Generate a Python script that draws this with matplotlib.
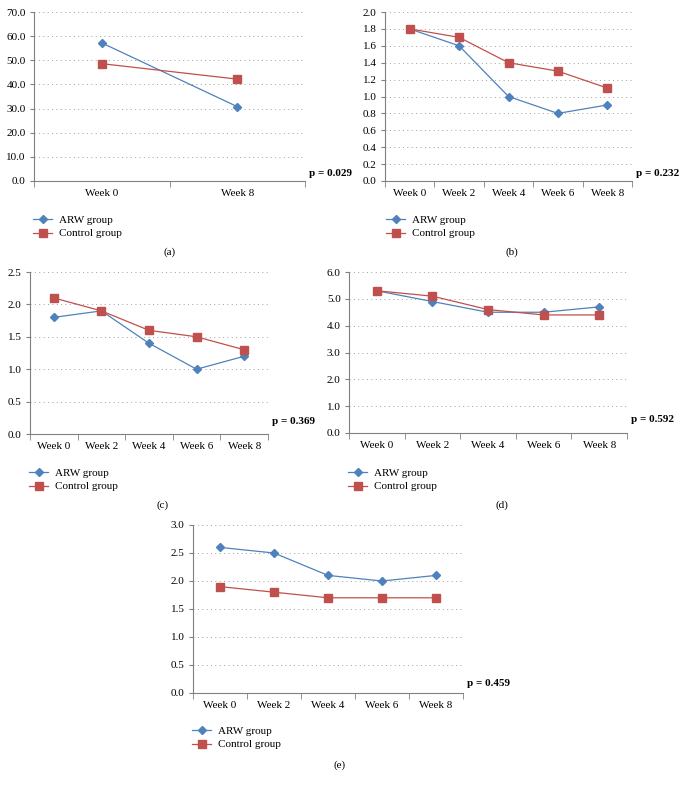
import matplotlib
matplotlib.use("Agg")
import matplotlib.pyplot as plt
from matplotlib.ticker import FixedLocator, FormatStrFormatter
from matplotlib.lines import Line2D

plt.rcParams['font.family'] = ['Liberation Serif', 'DejaVu Serif']

weeks_a = ["Week 0", "Week 8"]
weeks = ["Week 0", "Week 2", "Week 4", "Week 6", "Week 8"]

arw_a = [57.2, 30.8]
ctl_a = [48.6, 42.2]
arw_b = [1.8, 1.6, 1.0, 0.8, 0.9]
ctl_b = [1.8, 1.7, 1.4, 1.3, 1.1]
arw_c = [1.8, 1.9, 1.4, 1.0, 1.2]
ctl_c = [2.1, 1.9, 1.6, 1.5, 1.3]
arw_d = [5.3, 4.9, 4.5, 4.5, 4.7]
ctl_d = [5.3, 5.1, 4.6, 4.4, 4.4]
arw_e = [2.6, 2.5, 2.1, 2.0, 2.1]
ctl_e = [1.9, 1.8, 1.7, 1.7, 1.7]

p_values = ["p = 0.029", "p = 0.232", "p = 0.369", "p = 0.592", "p = 0.459"]
panel_labels = ["(a)", "(b)", "(c)", "(d)", "(e)"]
series_names = ["ARW group", "Control group"]

BLUE = "#4F81BD"
RED = "#C0504D"
GRAY = "#808080"

W, H = 682, 787
fig = plt.figure(figsize=(W / 100, H / 100), dpi=100)

# (left, right, top, bottom) in pixels, p-text y in pixels, legend top px, label y px
panels = [
    dict(box=(34, 305, 12, 181), cats=weeks_a, arw=arw_a, ctl=ctl_a, ymax=70, step=10,
         py=173, leg=(33, 215), lab=(170, 252)),
    dict(box=(385, 632, 12, 181), cats=weeks, arw=arw_b, ctl=ctl_b, ymax=2.0, step=0.2,
         py=173, leg=(386, 215), lab=(512, 252)),
    dict(box=(30, 268, 272, 434), cats=weeks, arw=arw_c, ctl=ctl_c, ymax=2.5, step=0.5,
         py=422, leg=(29, 468), lab=(163, 505)),
    dict(box=(349, 627, 272, 433), cats=weeks, arw=arw_d, ctl=ctl_d, ymax=6.0, step=1.0,
         py=419, leg=(348, 468), lab=(502, 505)),
    dict(box=(193, 463, 525, 693), cats=weeks, arw=arw_e, ctl=ctl_e, ymax=3.0, step=0.5,
         py=683, leg=(192, 726), lab=(340, 765)),
]

for i, p in enumerate(panels):
    l, r, t, b = p["box"]
    ax = fig.add_axes([l / W, 1 - b / H, (r - l) / W, (b - t) / H])
    n = len(p["cats"])
    x = list(range(n))
    ax.plot(x, p["arw"], color=BLUE, lw=0.9, marker="D", ms=4, mfc=BLUE, mec=BLUE,
            label=series_names[0], zorder=3)
    ax.plot(x, p["ctl"], color=RED, lw=0.9, marker="s", ms=5.5, mfc=RED, mec=RED,
            label=series_names[1], zorder=3)
    ax.set_xlim(-0.5, n - 0.5)
    ax.set_ylim(0, p["ymax"])
    nt = int(round(p["ymax"] / p["step"]))
    yt = [k * p["step"] for k in range(nt + 1)]
    ax.set_yticks(yt)
    ax.yaxis.set_major_formatter(FormatStrFormatter("%.1f"))
    ax.set_xticks(x)
    ax.set_xticklabels(p["cats"])
    ax.xaxis.set_minor_locator(FixedLocator([k - 0.5 for k in range(n + 1)]))
    ax.tick_params(axis="x", which="major", length=0, pad=6, labelsize=8)
    ax.tick_params(axis="x", which="minor", length=4, color=GRAY, direction="out")
    ax.tick_params(axis="y", length=3, color=GRAY, labelsize=8, pad=3)
    for s in ["top", "right"]:
        ax.spines[s].set_visible(False)
    for s in ["left", "bottom"]:
        ax.spines[s].set_color(GRAY)
        ax.spines[s].set_linewidth(0.8)
    ax.grid(axis="y", linestyle=(0, (1, 3.5)), color="#A0A0A0", lw=0.7)
    ax.set_axisbelow(True)

    fig.text((r + 4) / W, 1 - p["py"] / H, p_values[i], fontsize=8, fontweight="bold",
             ha="left", va="center")
    lx, ly = p["leg"]
    handles = [
        Line2D([], [], color=BLUE, lw=0.9, marker="D", ms=4),
        Line2D([], [], color=RED, lw=0.9, marker="s", ms=5.5),
    ]
    fig.legend(handles, series_names, loc="upper left", bbox_to_anchor=(lx / W, 1 - ly / H),
               frameon=False, fontsize=8, handlelength=1.75, handletextpad=0.6,
               labelspacing=0.35, borderpad=0, borderaxespad=0)
    fig.text(p["lab"][0] / W, 1 - p["lab"][1] / H, panel_labels[i], fontsize=8,
             ha="center", va="center")

fig.savefig("out.png", dpi=100)
